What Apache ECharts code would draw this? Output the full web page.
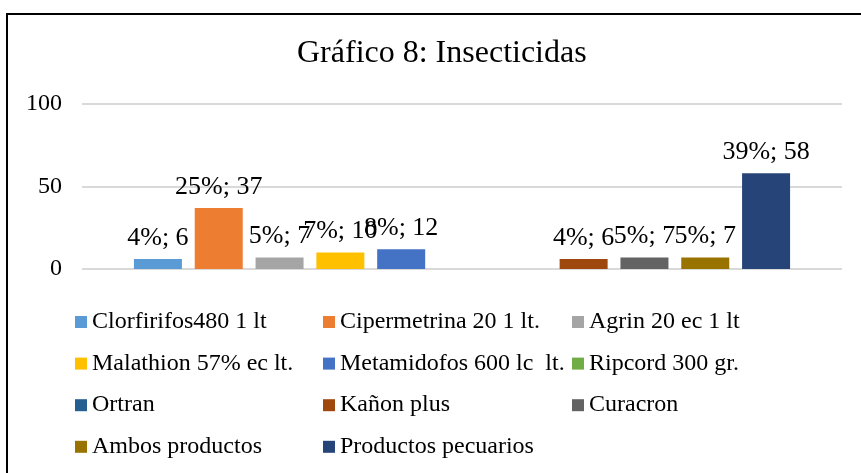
<!DOCTYPE html>
<html>
<head>
<meta charset="utf-8">
<script src="https://cdn.jsdelivr.net/npm/echarts@6/dist/echarts.min.js"></script>
<style>
  html, body { margin: 0; padding: 0; background: #fff; }
  #main { width: 861px; height: 473px; }
</style>
</head>
<body>
<div id="main"></div>
<script>
// datos del gráfico
var productos = [
  'Clorfirifos480 1 lt', 'Cipermetrina 20 1 lt.', 'Agrin 20 ec 1 lt',
  'Malathion 57% ec lt.', 'Metamidofos 600 lc  lt.', 'Ripcord 300 gr.',
  'Ortran', 'Kañon plus', 'Curacron',
  'Ambos productos', 'Productos pecuarios'
];
var valores = [6, 37, 7, 10, 12, null, null, 6, 7, 7, 58];
var colores = ['#5B9BD5', '#ED7D31', '#A5A5A5', '#FFC000', '#4472C4', '#70AD47',
  '#255E91', '#9E480E', '#636363', '#997300', '#264478'];
var yTicks = [0, 50, 100];

var total = valores.reduce(function (a, b) { return a + (b || 0); }, 0);
var font = 'Liberation Serif';

var chart = echarts.init(document.getElementById('main'));

var series = productos.map(function (p, i) {
  return {
    name: p,
    type: 'bar',
    barWidth: 48,
    barGap: '26.7%',
    itemStyle: { color: colores[i] },
    label: {
      show: true,
      position: 'top',
      distance: 8,
      color: '#000',
      fontFamily: font,
      fontSize: 26,
      formatter: function (d) {
        return Math.round(d.value / total * 100) + '%; ' + d.value;
      }
    },
    data: [valores[i]]
  };
});

// leyenda en 3 columnas
function columna(idx, left) {
  return {
    orient: 'vertical',
    left: left,
    top: 304,
    icon: 'rect',
    itemWidth: 12,
    itemHeight: 12,
    itemGap: 15.6,
    textStyle: { fontFamily: font, fontSize: 24, color: '#000', lineHeight: 26 },
    data: idx.map(function (i) { return productos[i]; })
  };
}

var option = {
  animation: false,
  title: {
    text: 'Gráfico 8: Insecticidas',
    left: 292,
    top: 33,
    textStyle: { fontFamily: font, fontSize: 32, fontWeight: 'normal', color: '#000' }
  },
  legend: [
    columna([0, 3, 6, 9], 70),
    columna([1, 4, 7, 10], 318),
    columna([2, 5, 8], 567)
  ],
  grid: { left: 82, right: 19, top: 104, height: 165 },
  xAxis: {
    type: 'category',
    data: [''],
    axisLine: { show: false },
    axisTick: { show: false },
    axisLabel: { show: false }
  },
  yAxis: {
    type: 'value',
    min: yTicks[0],
    max: yTicks[yTicks.length - 1],
    interval: 50,
    axisLabel: { fontFamily: font, fontSize: 24, color: '#000', margin: 20 },
    splitLine: { lineStyle: { color: '#d9d9d9', width: 2 } }
  },
  graphic: [{
    type: 'polyline',
    shape: { points: [[7, 473], [7, 14], [861, 14]] },
    style: { stroke: '#000', lineWidth: 2, fill: null }
  }],
  series: series
};

chart.setOption(option);
</script>
</body>
</html>
